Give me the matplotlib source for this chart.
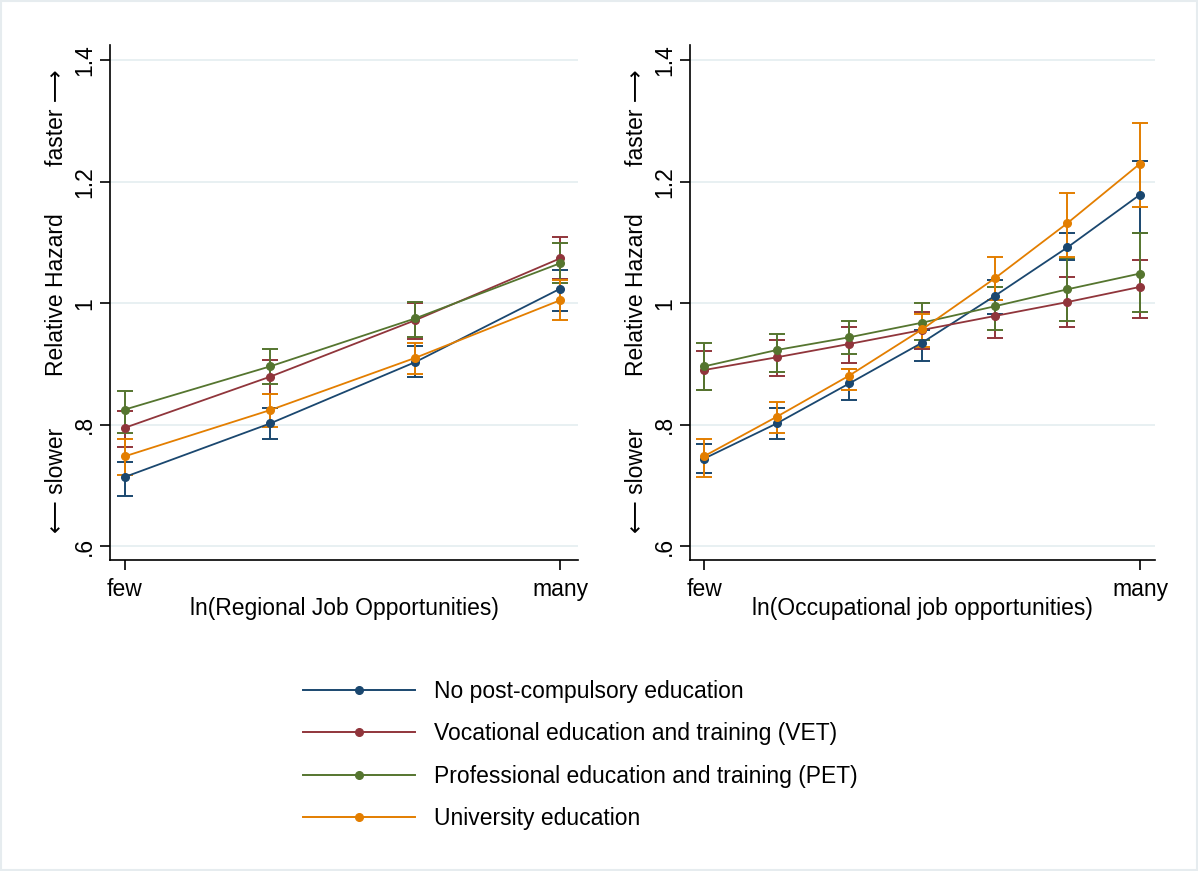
import numpy as np
import matplotlib.pyplot as plt
from matplotlib.patches import Rectangle
from matplotlib.lines import Line2D

plt.rcParams['font.family'] = ['Liberation Sans', 'DejaVu Sans']

groups = ['No post-compulsory education',
          'Vocational education and training (VET)',
          'Professional education and training (PET)',
          'University education']
colors = ['#1a476f', '#90353b', '#55752f', '#e37e00']

# regional job opportunities: 4 points from few to many
reg_hr = [
    [0.714, 0.802, 0.903, 1.024],
    [0.795, 0.879, 0.972, 1.074],
    [0.825, 0.896, 0.975, 1.066],
    [0.748, 0.824, 0.910, 1.005],
]
reg_lo = [
    [0.682, 0.776, 0.878, 0.988],
    [0.763, 0.850, 0.941, 1.040],
    [0.787, 0.867, 0.944, 1.033],
    [0.717, 0.797, 0.884, 0.972],
]
reg_hi = [
    [0.738, 0.828, 0.930, 1.054],
    [0.823, 0.906, 1.000, 1.109],
    [0.855, 0.924, 1.002, 1.100],
    [0.776, 0.851, 0.934, 1.038],
]

# occupational job opportunities: 7 points from few to many
occ_hr = [
    [0.744, 0.802, 0.868, 0.935, 1.012, 1.092, 1.179],
    [0.890, 0.911, 0.933, 0.956, 0.979, 1.002, 1.027],
    [0.896, 0.923, 0.944, 0.968, 0.995, 1.023, 1.049],
    [0.748, 0.813, 0.881, 0.957, 1.041, 1.132, 1.230],
]
occ_lo = [
    [0.720, 0.776, 0.840, 0.905, 0.983, 1.071, 1.115],
    [0.857, 0.880, 0.901, 0.925, 0.942, 0.961, 0.975],
    [0.857, 0.887, 0.917, 0.939, 0.956, 0.971, 0.986],
    [0.714, 0.786, 0.857, 0.928, 1.005, 1.076, 1.159],
]
occ_hi = [
    [0.769, 0.827, 0.891, 0.956, 1.038, 1.115, 1.235],
    [0.922, 0.939, 0.961, 0.986, 1.005, 1.043, 1.072],
    [0.935, 0.950, 0.971, 1.000, 1.027, 1.074, 1.115],
    [0.776, 0.838, 0.892, 0.983, 1.076, 1.181, 1.297],
]

xlabels = ['ln(Regional Job Opportunities)', 'ln(Occupational job opportunities)']
yticks = [0.6, 0.8, 1.0, 1.2, 1.4]
yticklabels = ['.6', '.8', '1', '1.2', '1.4']

FS = 16.5

fig = plt.figure(figsize=(11.98, 8.71), dpi=100)
fig.patches.append(Rectangle((0.001, 0.001), 0.998, 0.998, transform=fig.transFigure,
                             fill=False, edgecolor='#e6ecef', lw=1.5))

ax1 = fig.add_axes([0.0918, 0.357, 0.3907, 0.591])
ax2 = fig.add_axes([0.576, 0.357, 0.388, 0.591])

def draw_panel(ax, hr, lo, hi, xlabel, xlim):
    n = len(hr[0])
    x = np.linspace(0, 1, n)
    for i in range(4):
        h = np.array(hr[i])
        err = [h - np.array(lo[i]), np.array(hi[i]) - h]
        ax.errorbar(x, h, yerr=err, color=colors[i], lw=1.3, marker='o', ms=5.5,
                    capsize=5.5, capthick=1.4, elinewidth=1.4, label=groups[i], zorder=3)
    ax.set_xlim(*xlim)
    ax.set_ylim(0.577, 1.425)
    ax.set_yticks(yticks)
    ax.set_yticklabels(yticklabels, rotation=90, va='center')
    ax.set_xticks([0, 1])
    ax.set_xticklabels(['few', 'many'])
    ax.grid(axis='y', color='#e4edf0', lw=1.2, zorder=0)
    ax.set_axisbelow(True)
    for s in ['top', 'right']:
        ax.spines[s].set_visible(False)
    for s in ['left', 'bottom']:
        ax.spines[s].set_linewidth(1.2)
    ax.tick_params(axis='both', direction='out', length=7, width=1.2, labelsize=FS)
    ax.tick_params(axis='y', pad=3)
    ax.tick_params(axis='x', pad=6)
    ax.set_xlabel(xlabel, fontsize=FS, labelpad=-3)
    # y label with direction arrows
    ax.text(-0.115, 0.86, 'faster \u27f6', transform=ax.transAxes, rotation=90,
            ha='center', va='center', fontsize=FS)
    ax.text(-0.115, 0.515, 'Relative Hazard', transform=ax.transAxes, rotation=90,
            ha='center', va='center', fontsize=FS)
    ax.text(-0.115, 0.155, '\u27f5 slower', transform=ax.transAxes, rotation=90,
            ha='center', va='center', fontsize=FS)

draw_panel(ax1, reg_hr, reg_lo, reg_hi, xlabels[0], (-0.0345, 1.041))
draw_panel(ax2, occ_hr, occ_lo, occ_hi, xlabels[1], (-0.032, 1.034))

leg_handles = [Line2D([], [], color=c, lw=1.4, marker='o', ms=5.5) for c in colors]
fig.legend(leg_handles, groups, loc='upper left', bbox_to_anchor=(303 / 1198, 1 - 680 / 871),
           borderaxespad=0, borderpad=0, frameon=False, fontsize=FS,
           handlelength=4.9, handletextpad=0.8, labelspacing=0.85)

fig.savefig('out.png', dpi=100, facecolor='white')
